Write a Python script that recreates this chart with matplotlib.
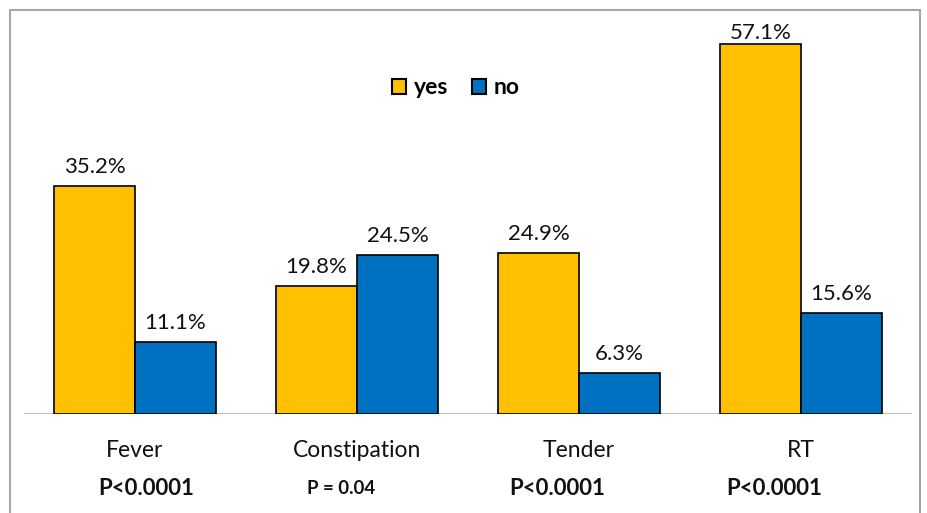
import matplotlib
matplotlib.use("Agg")
import matplotlib.pyplot as plt
from matplotlib.patches import Rectangle, Patch

categories = ["Fever", "Constipation", "Tender", "RT"]
yes_vals = [35.2, 19.8, 24.9, 57.1]
no_vals = [11.1, 24.5, 6.3, 15.6]
p_labels = ["P<0.0001", "P = 0.04", "P<0.0001", "P<0.0001"]
series_names = ["yes", "no"]

# layout
p_offsets = [0.05, -0.07, -0.10, -0.12]
p_sizes = [16, 13.5, 16, 16]
FONT = ["Lato", "DejaVu Sans"]
YELLOW = "#FFC000"
BLUE = "#0070C0"
LABEL_TOP_LIMIT_PX = 17  # value labels cannot rise above this (from figure top)

W, H = 928, 513
fig = plt.figure(figsize=(W / 100, H / 100), dpi=100)

# outer frame
fig.add_artist(Rectangle((10 / W, -0.05), 910 / W, (H - 10) / H + 0.05,
                         transform=fig.transFigure, fill=False,
                         edgecolor="#A6A6A6", linewidth=1.5))

ax_left, ax_right = 24, 912
px_per_unit = 6.48
ax_base, ax_top = 414, 414 - 60 * px_per_unit
ax = fig.add_axes([ax_left / W, (H - ax_base) / H, (ax_right - ax_left) / W,
                   (ax_base - ax_top) / H])
ax.set_xlim(-0.5, 3.5)
ax.set_ylim(0, 60)
ax.axis("off")
ax.axhline(0, color="#BFBFBF", linewidth=1.5, zorder=1)

bw = 0.365
x = list(range(len(categories)))
b1 = ax.bar([i - bw / 2 for i in x], yes_vals, width=bw, color=YELLOW,
            edgecolor="black", linewidth=1.2, zorder=2)
b2 = ax.bar([i + bw / 2 for i in x], no_vals, width=bw, color=BLUE,
            edgecolor="black", linewidth=1.2, zorder=2)

label_h_px = 26  # approx height of a value label box
for bars, vals in ((b1, yes_vals), (b2, no_vals)):
    for rect, v in zip(bars, vals):
        top_px = ax_base - v * px_per_unit
        off_px = 6.5 / 0.72
        if top_px - off_px - label_h_px < LABEL_TOP_LIMIT_PX:
            off_px = max(top_px - label_h_px - LABEL_TOP_LIMIT_PX, 0)
        ax.annotate(f"{v}%", (rect.get_x() + rect.get_width() / 2, v),
                    xytext=(0, off_px * 0.72), textcoords="offset points",
                    ha="center", va="bottom", fontsize=16, family=FONT,
                    color="#111111")

for i, c in enumerate(categories):
    ax.text(i, -5.6, c, ha="center", va="center", fontsize=16.5,
            family=FONT, color="#111111")
    ax.text(i + p_offsets[i], -11.5, p_labels[i], ha="center", va="center",
            fontsize=p_sizes[i], family=FONT, fontweight="bold", color="#111111")

handles = [Patch(facecolor=YELLOW, edgecolor="black", linewidth=1.5),
           Patch(facecolor=BLUE, edgecolor="black", linewidth=1.5)]
leg = fig.legend(handles, series_names, loc="center", ncol=2,
                 bbox_to_anchor=(456 / W, 1 - 88 / H), frameon=False,
                 handlelength=0.62, handleheight=0.62, handletextpad=0.35,
                 columnspacing=1.0, borderpad=0.2,
                 prop={"family": FONT, "weight": "bold", "size": 16.5})

fig.savefig("out.png", dpi=100)
